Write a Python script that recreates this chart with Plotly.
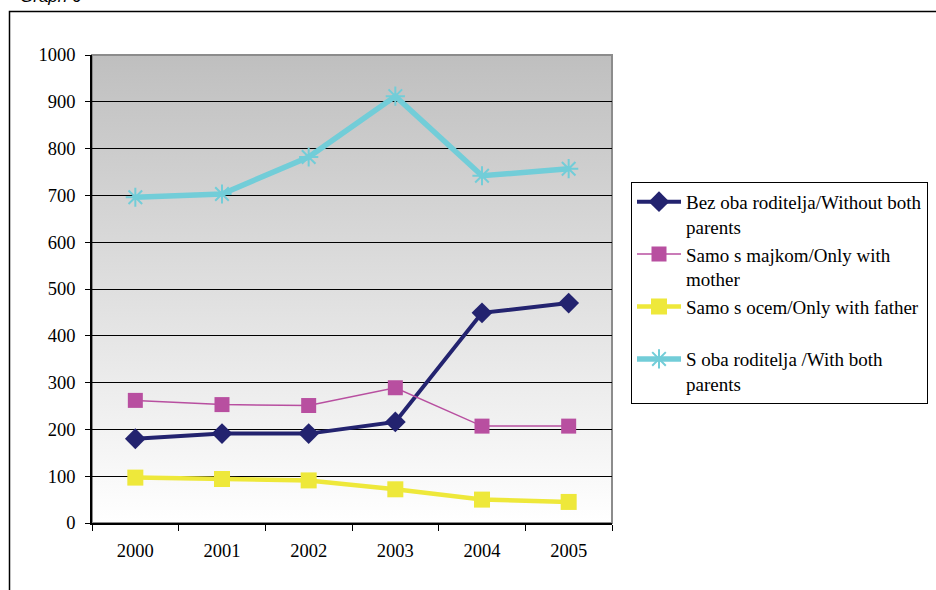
import base64
import plotly.graph_objects as go

years = ["2000", "2001", "2002", "2003", "2004", "2005"]
without_both = [180, 191, 191, 216, 449, 470]
only_mother = [262, 253, 251, 289, 207, 207]
only_father = [97, 94, 91, 72, 50, 45]
with_both = [696, 703, 782, 912, 742, 757]

names = [
    "Bez oba roditelja/Without both<br>parents",
    "Samo s majkom/Only with<br>mother",
    "Samo s ocem/Only with father<br> ",
    "S oba roditelja /With both<br>parents",
]

W, H = 936, 590
L, R, T, B = 92, 612, 55, 523.5

def px(x):
    return (x - L) / (R - L)

def py(y):
    return (B - y) / (B - T)

svg = ('<svg xmlns="http://www.w3.org/2000/svg" width="100" height="100" preserveAspectRatio="none">'
       '<defs><linearGradient id="g" x1="0" y1="0" x2="0" y2="1">'
       '<stop offset="0" stop-color="#bfbfbf"/><stop offset="1" stop-color="#ffffff"/>'
       '</linearGradient></defs><rect width="100" height="100" fill="url(#g)"/></svg>')
src = "data:image/svg+xml;base64," + base64.b64encode(svg.encode()).decode()

fig = go.Figure()
fig.add_trace(go.Scatter(x=years, y=without_both, name=names[0], mode="lines+markers",
                         line=dict(color="#23236f", width=4),
                         marker=dict(symbol="diamond", size=16, color="#23236f")))
fig.add_trace(go.Scatter(x=years, y=only_mother, name=names[1], mode="lines+markers",
                         line=dict(color="#b84fa0", width=1.5),
                         marker=dict(symbol="square", size=15, color="#b84fa0")))
fig.add_trace(go.Scatter(x=years, y=only_father, name=names[2], mode="lines+markers",
                         line=dict(color="#eee83a", width=4.5),
                         marker=dict(symbol="square", size=16, color="#eee83a")))
fig.add_trace(go.Scatter(x=years, y=with_both, name=names[3], mode="lines+markers",
                         line=dict(color="#72cdd8", width=5.5),
                         marker=dict(symbol="asterisk-open", size=16,
                                     color="#72cdd8", line=dict(color="#72cdd8", width=2))))

tickfont = dict(family="Liberation Serif", size=18.5, color="black")
legfont = dict(family="Liberation Serif", size=19, color="black")

fig.update_layout(
    width=W, height=H,
    margin=dict(l=L, r=W - R, t=T, b=H - B, pad=0, autoexpand=False),
    paper_bgcolor="white",
    plot_bgcolor="rgba(0,0,0,0)",
    font=tickfont,
    showlegend=True,
    legend=dict(x=px(631), y=py(182), xanchor="left", yanchor="top",
                bordercolor="black", borderwidth=1, bgcolor="white",
                font=legfont, valign="top", itemwidth=44, tracegroupgap=0),
    xaxis=dict(type="category", tickson="boundaries", ticks="outside", ticklen=6,
               tickcolor="black", showline=True, linecolor="black", linewidth=1.5,
               showgrid=False, tickfont=tickfont, ticklabelstandoff=10,
               range=[-0.5, 5.5]),
    yaxis=dict(range=[0, 1000], dtick=100, ticks="outside", ticklen=5,
               tickcolor="black", showline=True, linecolor="black", linewidth=1.5,
               showgrid=True, gridcolor="black", gridwidth=1, zeroline=False,
               tickfont=tickfont, ticklabelstandoff=6),
    images=[dict(source=src, xref="paper", yref="paper", x=0, y=1, sizex=1, sizey=1,
                 sizing="stretch", layer="below")],
    shapes=[
        dict(type="rect", xref="paper", yref="paper", x0=0, y0=0, x1=1, y1=1,
             line=dict(color="#8c8c8c", width=2), layer="between"),
        dict(type="rect", xref="paper", yref="paper", x0=px(9.5), y0=py(11.5),
             x1=px(960), y1=py(620), line=dict(color="black", width=1.5)),
    ],
    annotations=[dict(text="<i>Graph 6</i>", xref="paper", yref="paper",
                      x=px(18), y=py(8), xanchor="left", yanchor="bottom",
                      showarrow=False,
                      font=dict(family="Liberation Sans", size=17, color="black"))],
)

fig.write_html("out.html", config={"displayModeBar": False},
               post_script="document.body.style.margin='0';document.body.style.overflow='hidden';")
